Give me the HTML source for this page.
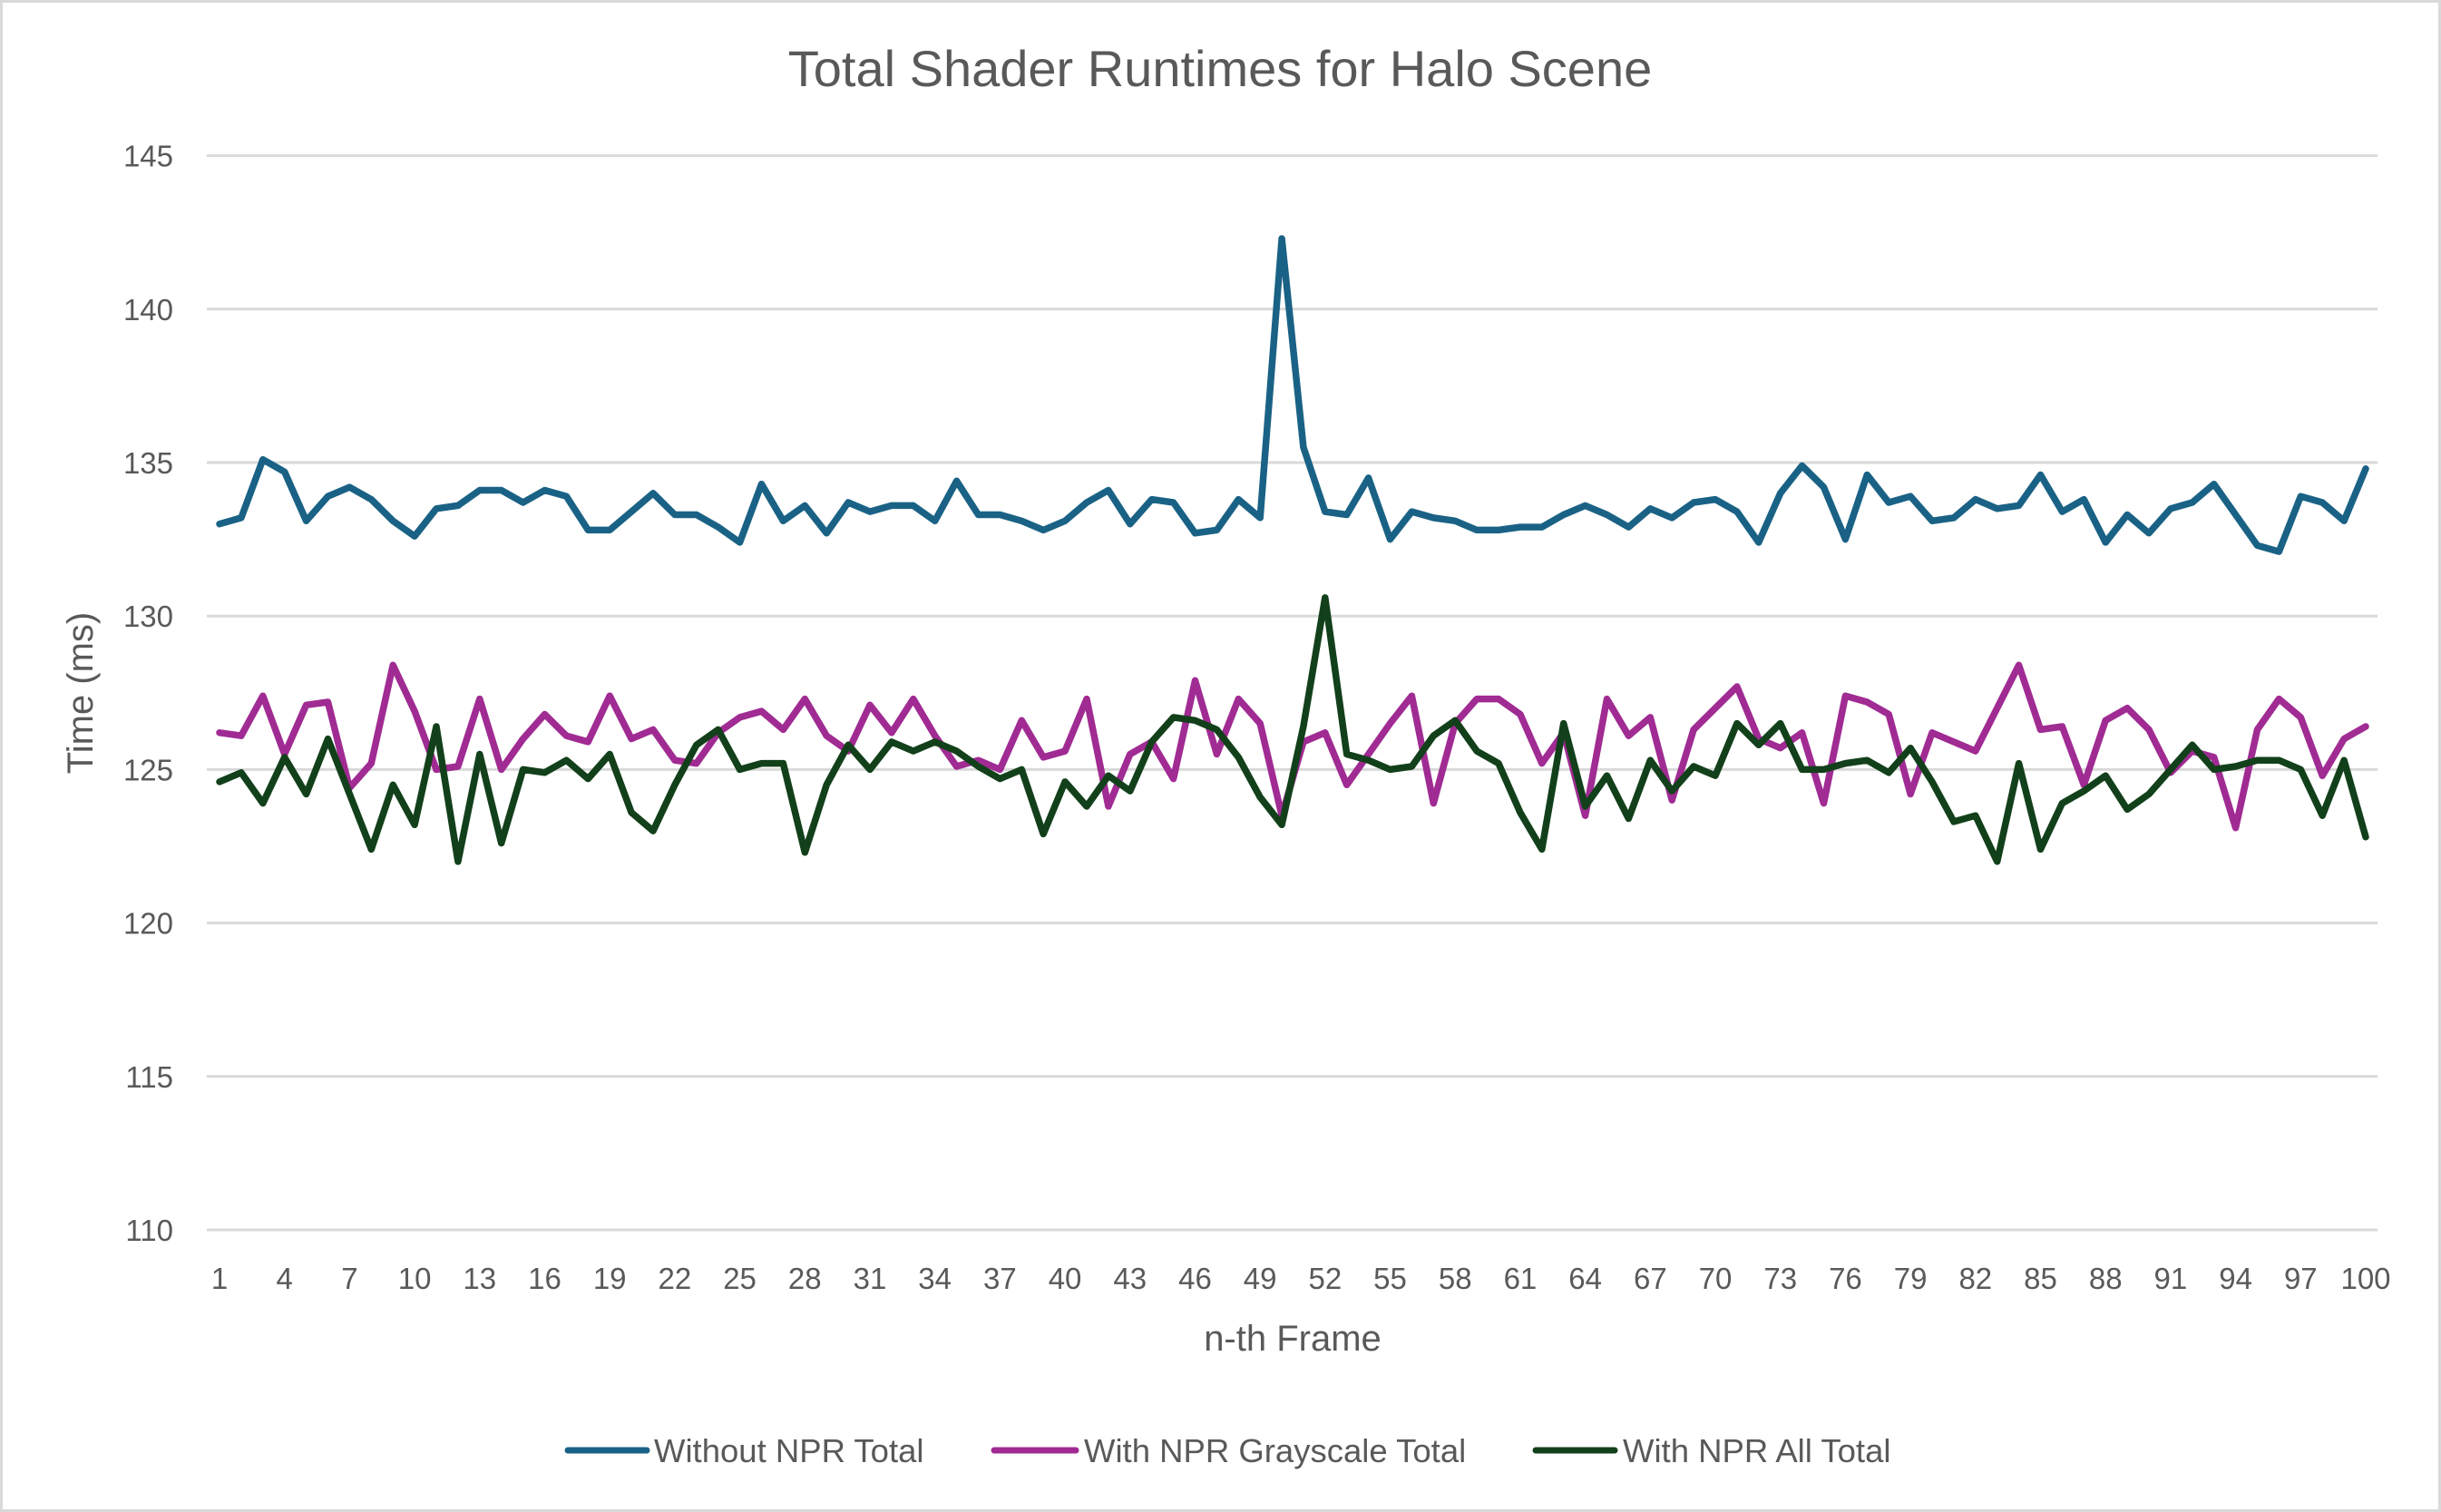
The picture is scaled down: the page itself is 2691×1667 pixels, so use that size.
<!DOCTYPE html>
<html><head><meta charset="utf-8"><style>
html,body{margin:0;padding:0;background:#fff;}
svg{display:block;font-family:"Liberation Sans",sans-serif;}
</style></head><body>
<svg id="chart" width="2691" height="1667" viewBox="0 0 2691 1667">
<rect x="1.5" y="1.5" width="2688" height="1664" fill="#fff" stroke="#d9d9d9" stroke-width="3"/>
<text x="1345" y="95" font-size="56" fill="#595959" text-anchor="middle">Total Shader Runtimes for Halo Scene</text>
<g id="grid"></g>
<g id="yticks"></g>
<g id="xticks"></g>
<g id="series"></g>
<text x="1425" y="1489" font-size="40" fill="#595959" text-anchor="middle">n-th Frame</text>
<text transform="translate(102,764) rotate(-90)" font-size="40" fill="#595959" text-anchor="middle">Time (ms)</text>
<g>
<g>
<line x1="626" y1="1599" x2="713" y2="1599" stroke="#1a6285" stroke-width="7" stroke-linecap="round"/>
<text x="721" y="1612" font-size="36.5" fill="#595959">Without NPR Total</text></g>
<g>
<line x1="1096" y1="1599" x2="1186" y2="1599" stroke="#a02b93" stroke-width="7" stroke-linecap="round"/>
<text x="1195" y="1612" font-size="36.5" fill="#595959">With NPR Grayscale Total</text></g>
<g>
<line x1="1693" y1="1599" x2="1780" y2="1599" stroke="#12401a" stroke-width="7" stroke-linecap="round"/>
<text x="1789" y="1612" font-size="36.5" fill="#595959">With NPR All Total</text></g>
</g>
</svg>
<script>
const yTicks = [110,115,120,125,130,135,140,145];
const withoutNpr = [133.0,133.2,135.1,134.7,133.1,133.9,134.2,133.8,133.1,132.6,133.5,133.6,134.1,134.1,133.7,134.1,133.9,132.8,132.8,133.4,134.0,133.3,133.3,132.9,132.4,134.3,133.1,133.6,132.7,133.7,133.4,133.6,133.6,133.1,134.4,133.3,133.3,133.1,132.8,133.1,133.7,134.1,133.0,133.8,133.7,132.7,132.8,133.8,133.2,142.3,135.5,133.4,133.3,134.5,132.5,133.4,133.2,133.1,132.8,132.8,132.9,132.9,133.3,133.6,133.3,132.9,133.5,133.2,133.7,133.8,133.4,132.4,134.0,134.9,134.2,132.5,134.6,133.7,133.9,133.1,133.2,133.8,133.5,133.6,134.6,133.4,133.8,132.4,133.3,132.7,133.5,133.7,134.3,133.3,132.3,132.1,133.9,133.7,133.1,134.8];
const withGrayscale = [126.2,126.1,127.4,125.5,127.1,127.2,124.4,125.2,128.4,126.9,125.0,125.1,127.3,125.0,126.0,126.8,126.1,125.9,127.4,126.0,126.3,125.3,125.2,126.2,126.7,126.9,126.3,127.3,126.1,125.6,127.1,126.2,127.3,126.1,125.1,125.3,125.0,126.6,125.4,125.6,127.3,123.8,125.5,125.9,124.7,127.9,125.5,127.3,126.5,123.5,125.9,126.2,124.5,125.5,126.5,127.4,123.9,126.5,127.3,127.3,126.8,125.2,126.2,123.5,127.3,126.1,126.7,124.0,126.3,127.0,127.7,126.0,125.7,126.2,123.9,127.4,127.2,126.8,124.2,126.2,125.9,125.6,127.0,128.4,126.3,126.4,124.5,126.6,127.0,126.3,124.9,125.6,125.4,123.1,126.3,127.3,126.7,124.8,126.0,126.4];
const withAll = [124.6,124.9,123.9,125.4,124.2,126.0,124.2,122.4,124.5,123.2,126.4,122.0,125.5,122.6,125.0,124.9,125.3,124.7,125.5,123.6,123.0,124.5,125.8,126.3,125.0,125.2,125.2,122.3,124.5,125.8,125.0,125.9,125.6,125.9,125.6,125.1,124.7,125.0,122.9,124.6,123.8,124.8,124.3,125.9,126.7,126.6,126.3,125.4,124.1,123.2,126.4,130.6,125.5,125.3,125.0,125.1,126.1,126.6,125.6,125.2,123.6,122.4,126.5,123.8,124.8,123.4,125.3,124.3,125.1,124.8,126.5,125.8,126.5,125.0,125.0,125.2,125.3,124.9,125.7,124.6,123.3,123.5,122.0,125.2,122.4,123.9,124.3,124.8,123.7,124.2,125.0,125.8,125.0,125.1,125.3,125.3,125.0,123.5,125.3,122.8];

const NS = "http://www.w3.org/2000/svg";
const X0 = 242, X1 = 2608, Y145 = 171.6, Y110 = 1356;
const n = withoutNpr.length;
function xs(i){ return X0 + (X1 - X0) * i / (n - 1); }
function ys(v){ return Y110 - (v - 110) * (Y110 - Y145) / 35; }
function mk(tag, attrs){ const e = document.createElementNS(NS, tag); for (const k in attrs) e.setAttribute(k, attrs[k]); return e; }

const grid = document.getElementById('grid');
const yt = document.getElementById('yticks');
yTicks.forEach(v => {
  const l = mk('line', {x1: 228, x2: 2621, y1: ys(v), y2: ys(v), stroke: '#d9d9d9', 'stroke-width': 3});
  
  
  grid.appendChild(l);
  const t = mk('text', {x: 191, y: ys(v) + 12, 'font-size': 33, fill: '#595959', 'text-anchor': 'end'});
  t.textContent = v;
  
  
  yt.appendChild(t);
});
const xt = document.getElementById('xticks');
for (let i = 0; i < n; i += 3) {
  const t = mk('text', {x: xs(i), y: 1421, 'font-size': 33, fill: '#595959', 'text-anchor': 'middle'});
  t.textContent = i + 1;
  
  
  xt.appendChild(t);
}
const sg = document.getElementById('series');
[[withoutNpr, '#1a6285', 'line-without-npr'], [withGrayscale, '#a02b93', 'line-with-npr-grayscale'], [withAll, '#12401a', 'line-with-npr-all']].forEach(s => {
  const pts = s[0].map((v, i) => xs(i).toFixed(1) + ',' + ys(v).toFixed(1)).join(' ');
  const p = mk('polyline', {points: pts, fill: 'none', stroke: s[1], 'stroke-width': 7.5, 'stroke-linejoin': 'round', 'stroke-linecap': 'round'});
  
  
  sg.appendChild(p);
});
</script>
</body></html>
